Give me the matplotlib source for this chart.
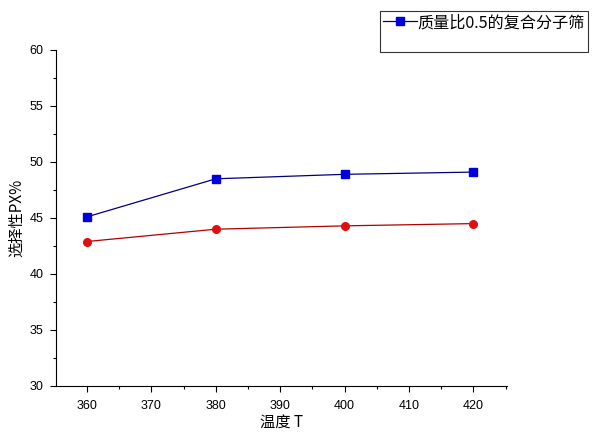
import matplotlib
matplotlib.use("Agg")
import matplotlib.pyplot as plt
from matplotlib.ticker import MultipleLocator

plt.rcParams['font.family'] = ['Liberation Sans', 'Noto Sans CJK SC', 'DejaVu Sans']

temps = [360, 380, 400, 420]
blue_vals = [45.1, 48.5, 48.9, 49.1]
red_vals = [42.9, 44.0, 44.3, 44.5]
legend_label = "质量比0.5的复合分子筛"
xlabel = "温度 T"
ylabel = "选择性PX%"

fig = plt.figure(figsize=(5.92, 4.34), dpi=100)
ax = fig.add_axes([0.0946, 0.1106, 0.7618, 0.7742])

ax.plot(temps, blue_vals, color='#000080', lw=0.9, marker='s', ms=5.5,
        mfc='#0000dd', mec='#0000dd', label=legend_label)
ax.plot(temps, red_vals, color='#b00000', lw=0.9, marker='o', ms=5.5,
        mfc='#e01010', mec='#e01010')

ax.set_xlim(355.2, 425.2)
ax.set_ylim(30, 60)
ax.xaxis.set_major_locator(MultipleLocator(10))
ax.xaxis.set_minor_locator(MultipleLocator(5))
ax.yaxis.set_major_locator(MultipleLocator(5))
ax.yaxis.set_minor_locator(MultipleLocator(2.5))
for s in ['top', 'right']:
    ax.spines[s].set_visible(False)
for s in ['left', 'bottom']:
    ax.spines[s].set_linewidth(0.8)
ax.tick_params(which='major', direction='out', length=4, width=0.8, labelsize=9, colors='#000000')
ax.tick_params(which='minor', direction='out', length=2.5, width=0.8)
ax.tick_params(axis='x', pad=6)
ax.tick_params(axis='y', pad=5)

ax.set_xlabel(xlabel, fontsize=11, family=['Noto Sans CJK SC', 'DejaVu Sans'], labelpad=1)
ax.set_ylabel(ylabel, fontsize=11, family=['Noto Sans CJK SC', 'DejaVu Sans'], labelpad=3)

h, l = ax.get_legend_handles_labels()
blank, = ax.plot([], [], color='none')
leg = fig.legend(h + [blank], l + [' '], loc='upper right',
                 bbox_to_anchor=(0.994, 0.975), frameon=True, fancybox=False,
                 edgecolor='black', prop={'family': ['Noto Sans CJK SC', 'DejaVu Sans'], 'size': 11.6},
                 handlelength=2.1, handletextpad=0.05, borderpad=0.2, labelspacing=0.05,
                 borderaxespad=0)
leg.get_frame().set_linewidth(0.8)

fig.savefig("out.png", dpi=100)
